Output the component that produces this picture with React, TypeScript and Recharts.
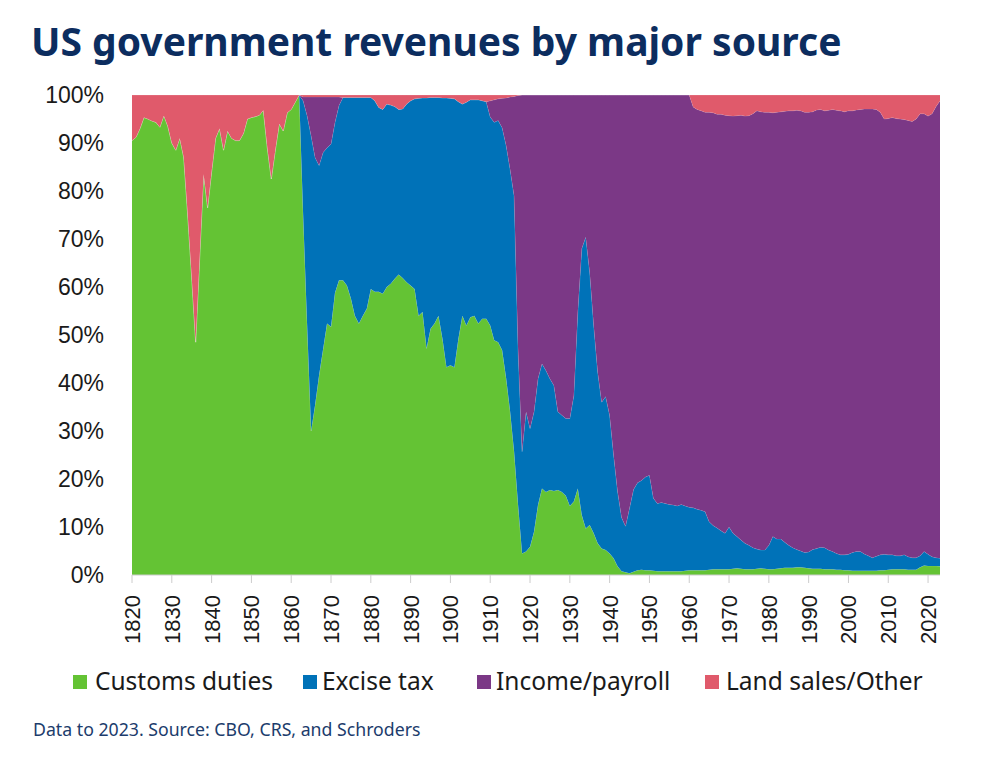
import React from 'react';
import { AreaChart, Area, XAxis, YAxis } from 'recharts';

// share of federal revenue by source, % of total, one value per year 1820-2023
const customs = [
    90.5, 91.2, 93, 95.3, 95, 94.6, 94.3, 93.3, 95.7, 93.5,
    90, 88.5, 91, 87, 75, 62, 48.5, 66, 83.5, 76.5,
    84, 91, 93, 88.5, 92.5, 91, 90.5, 90.5, 92, 95,
    95.3, 95.5, 95.8, 96.8, 89, 82.5, 88.5, 94, 92.5, 96.3,
    97, 98.5, 100, 75, 52, 30, 35.4, 41.6, 47, 52.4,
    51.7, 58.8, 61.4, 61.4, 60.3, 57.6, 54, 52.4, 54, 55.5,
    59.6, 59, 59, 58.6, 60, 60.7, 61.7, 62.6, 61.9, 61,
    60.3, 59.6, 54, 54.8, 47.2, 51.3, 52.4, 54, 49.2, 43.3,
    43.7, 43.3, 49.2, 54, 52, 53.7, 54, 52.4, 53.4, 53.4,
    52, 48.9, 48.5, 46.8, 41, 34, 25.7, 14.6, 4.5, 4.9,
    5.9, 9, 14.6, 18, 17.3, 17.7, 17.5, 17.7, 17.3, 16.5,
    14.4, 15.3, 18, 12.5, 9.7, 10.4, 8.7, 6.6, 5.5, 5.2,
    4.5, 3.5, 1.8, 0.8, 0.55, 0.35, 0.7, 1.0, 1.1, 1.0,
    1.0, 0.9, 0.8, 0.8, 0.8, 0.8, 0.8, 0.8, 0.8, 0.9,
    1.0, 1.0, 1.0, 1.0, 1.0, 1.1, 1.2, 1.2, 1.2, 1.2,
    1.2, 1.3, 1.4, 1.3, 1.2, 1.2, 1.2, 1.3, 1.4, 1.3,
    1.2, 1.2, 1.3, 1.4, 1.5, 1.5, 1.5, 1.6, 1.6, 1.5,
    1.4, 1.3, 1.3, 1.3, 1.2, 1.2, 1.2, 1.1, 1.1, 1.0,
    1.0, 0.9, 0.9, 0.9, 0.9, 0.9, 0.9, 0.9, 1.0, 1.0,
    1.1, 1.2, 1.2, 1.2, 1.2, 1.1, 1.1, 1.1, 1.6, 2.0,
    1.9, 1.9, 1.9, 1.8,
];

const excise = [
    0, 0, 0, 0, 0, 0, 0, 0, 0, 0,
    0, 0, 0, 0, 0, 0, 0, 0, 0, 0,
    0, 0, 0, 0, 0, 0, 0, 0, 0, 0,
    0, 0, 0, 0, 0, 0, 0, 0, 0, 0,
    0, 0, 0, 23.8, 43.7, 61.5, 51.6, 43.7, 41, 36.6,
    38.1, 35.5, 36.4, 38.1, 39.2, 41.9, 45.5, 47.1, 45.5, 44,
    39.9, 39.8, 38.4, 38.4, 38.1, 37.2, 35.9, 34.4, 35.2, 37.1,
    38.5, 39.6, 45.3, 44.6, 52.2, 48.2, 47.1, 45.5, 50.2, 56.1,
    55.6, 55.9, 49.4, 44.1, 46.5, 45.3, 45, 46.6, 45.4, 45.2,
    43.4, 45.4, 46.2, 46.4, 48.5, 50.5, 53.3, 32.4, 21.2, 29.1,
    24.6, 25, 26.3, 26, 25.3, 23.2, 22, 16.3, 16, 16.1,
    18.2, 22.1, 36.8, 55.5, 60.7, 52.6, 43.3, 35.7, 30.5, 32,
    28.8, 21.5, 15.6, 11.2, 9.6, 13.6, 17.1, 18.2, 18.6, 19.4,
    19.8, 15.1, 14.1, 14.3, 14.1, 13.9, 13.8, 13.6, 13.9, 13.5,
    13.1, 13, 12.7, 12.5, 12.2, 10, 9.1, 8.6, 8, 7.5,
    8.8, 7.4, 6.6, 6, 5.4, 5, 4.5, 4.1, 3.8, 3.9,
    5, 6.8, 6.2, 6.1, 5.3, 4.7, 4.2, 3.7, 3.4, 3.2,
    3.4, 4, 4.2, 4.5, 4.5, 4, 3.7, 3.4, 3.1, 3.2,
    3.3, 3.8, 4, 4, 3.5, 3.1, 2.7, 3, 3.2, 3.3,
    3.1, 3, 2.8, 2.8, 3, 2.7, 2.5, 2.5, 2.4, 2.9,
    2.4, 1.9, 1.7, 1.7,
];

const income = [
    0, 0, 0, 0, 0, 0, 0, 0, 0, 0,
    0, 0, 0, 0, 0, 0, 0, 0, 0, 0,
    0, 0, 0, 0, 0, 0, 0, 0, 0, 0,
    0, 0, 0, 0, 0, 0, 0, 0, 0, 0,
    0, 0, 0, 0.8, 3.9, 8.1, 12.6, 14.3, 11.6, 10.6,
    9.8, 5.3, 1.8, 0, 0, 0, 0, 0, 0, 0,
    0, 0, 0, 0, 0, 0, 0, 0, 0, 0,
    0, 0, 0, 0, 0, 0, 0, 0, 0, 0,
    0, 0, 0, 0, 0, 0, 0, 0, 0, 0,
    3.4, 4.7, 4.5, 6.1, 9.9, 15.1, 20.7, 52.9, 74.3, 66,
    69.5, 66, 59.1, 56, 57.4, 59.1, 60.5, 66, 66.7, 67.4,
    67.4, 62.6, 45.2, 32, 29.6, 37, 48, 57.7, 64, 62.8,
    66.7, 75, 82.6, 88, 89.8, 86, 82.2, 80.8, 80.3, 79.6,
    79.2, 84, 85.1, 84.9, 85.1, 85.3, 85.4, 85.6, 85.3, 85.6,
    85.9, 83.5, 83.3, 83.2, 83.2, 85.3, 86, 86.2, 86.8, 87.1,
    85.7, 86.9, 87.7, 88.5, 89, 89.5, 90.4, 91.3, 91.3, 91.2,
    90.2, 88.3, 88.9, 89, 89.8, 90.5, 91, 91.5, 91.7, 91.7,
    91.6, 91.2, 91.4, 91.2, 91, 91.6, 92.1, 92.3, 92.5, 92.3,
    92.4, 92, 92, 92.1, 92.7, 93.1, 93.5, 93.1, 92.2, 90.7,
    90.9, 91.1, 91.1, 91, 90.7, 90.9, 90.9, 91.4, 92.1, 91.2,
    91.3, 92.3, 94, 95.3,
];

const other = [
    9.5, 8.8, 7, 4.7, 5, 5.4, 5.7, 6.7, 4.3, 6.5,
    10, 11.5, 9, 13, 25, 38, 51.5, 34, 16.5, 23.5,
    16, 9, 7, 11.5, 7.5, 9, 9.5, 9.5, 8, 5,
    4.7, 4.5, 4.2, 3.2, 11, 17.5, 11.5, 6, 7.5, 3.7,
    3, 1.5, 0, 0.4, 0.4, 0.4, 0.4, 0.4, 0.4, 0.4,
    0.4, 0.4, 0.4, 0.5, 0.5, 0.5, 0.5, 0.5, 0.5, 0.5,
    0.5, 1.2, 2.6, 3, 1.9, 2.1, 2.4, 3, 2.9, 1.9,
    1.2, 0.8, 0.7, 0.6, 0.6, 0.5, 0.5, 0.5, 0.6, 0.6,
    0.7, 0.8, 1.4, 1.9, 1.5, 1, 1, 1, 1.2, 1.4,
    1.2, 1, 0.8, 0.7, 0.6, 0.4, 0.3, 0.1, 0, 0,
    0, 0, 0, 0, 0, 0, 0, 0, 0, 0,
    0, 0, 0, 0, 0, 0, 0, 0, 0, 0,
    0, 0, 0, 0, 0, 0, 0, 0, 0, 0,
    0, 0, 0, 0, 0, 0, 0, 0, 0, 0,
    0, 2.5, 3, 3.3, 3.6, 3.6, 3.7, 4, 4, 4.2,
    4.3, 4.4, 4.3, 4.2, 4.4, 4.3, 3.9, 3.3, 3.5, 3.6,
    3.6, 3.7, 3.6, 3.5, 3.4, 3.3, 3.3, 3.2, 3.3, 3.6,
    3.6, 3.5, 3.1, 3, 3.3, 3.2, 3, 3.2, 3.3, 3.5,
    3.3, 3.3, 3.1, 3, 2.9, 2.9, 2.9, 3, 3.6, 5,
    4.9, 4.7, 4.9, 5, 5.1, 5.3, 5.5, 5, 3.9, 3.9,
    4.4, 3.9, 2.4, 1.2,
];

const firstYear = 1820;
const years = customs.map((_, i) => firstYear + i);
const xTicks = [1820, 1830, 1840, 1850, 1860, 1870, 1880, 1890, 1900, 1910, 1920, 1930, 1940, 1950, 1960, 1970, 1980, 1990, 2000, 2010, 2020];
const yTicks = [0, 0.1, 0.2, 0.3, 0.4, 0.5, 0.6, 0.7, 0.8, 0.9, 1];

const series = [
    { key: 'customs', name: 'Customs duties', color: '#64c334', legendX: 73, textX: 95 },
    { key: 'excise', name: 'Excise tax', color: '#0072b8', legendX: 303, textX: 322 },
    { key: 'income', name: 'Income/payroll', color: '#7b3886', legendX: 477, textX: 496 },
    { key: 'other', name: 'Land sales/Other', color: '#e05a6b', legendX: 705, textX: 726 },
];

const data = years.map((year, i) => ({
    year,
    customs: customs[i],
    excise: excise[i],
    income: income[i],
    other: other[i],
}));

const axisFont = '"Liberation Sans", Arial, sans-serif';
const textFont = '"Noto Sans", sans-serif';

const YearTick = (props: any) => {
    const { x, y, payload } = props;
    return (
        <text transform={`translate(${x},${y + 10}) rotate(-90)`} textAnchor="end" dy="0.36em"
            fontSize={22} fontFamily={axisFont} fill="#1a1a1a">
            {payload.value}
        </text>
    );
};

const App: React.FC = () => {
    return (
        <div style={{ position: 'absolute', left: 0, top: 0, width: 1000, height: 779, background: '#fff' }}>
            <AreaChart width={1000} height={660} data={data} stackOffset="expand"
                margin={{ top: 95, right: 60, left: 52, bottom: 15 }}
                style={{ position: 'absolute', left: 0, top: 0 }}>
                <XAxis dataKey="year" type="number" domain={[1820, 2023]} ticks={xTicks} interval={0}
                    height={70} tickSize={8} tick={<YearTick />}
                    axisLine={{ stroke: '#cccccc' }} tickLine={{ stroke: '#cccccc' }} />
                <YAxis domain={[0, 1]} ticks={yTicks} width={80} axisLine={false} tickLine={false}
                    tickSize={0} tickMargin={28}
                    tickFormatter={(v: number) => `${Math.round(v * 100)}%`}
                    tick={{ fontSize: 23, fontFamily: axisFont, fill: '#1a1a1a' }} />
                {series.map(s => (
                    <Area key={s.key} type="linear" dataKey={s.key} stackId="rev" name={s.name}
                        fill={s.color} fillOpacity={1} stroke="rgba(255,255,255,0.3)" strokeWidth={0.6}
                        isAnimationActive={false} dot={false} activeDot={false} />
                ))}
            </AreaChart>
            <svg width={1000} height={779} style={{ position: 'absolute', left: 0, top: 0, pointerEvents: 'none' }}>
                <text x={31} y={56} fontSize={39} fontWeight={700} fontFamily={textFont} fill="#0c2d5f">
                    US government revenues by major source
                </text>
                {series.map(s => (
                    <g key={s.key}>
                        <rect x={s.legendX} y={675} width={14} height={14} fill={s.color} />
                        <text x={s.textX} y={690} fontSize={24.5} fontFamily={textFont} fill="#1a1a1a">{s.name}</text>
                    </g>
                ))}
                <text x={33} y={736} fontSize={17.7} fontFamily={textFont} fill="#1c3c6c">
                    Data to 2023. Source: CBO, CRS, and Schroders
                </text>
            </svg>
        </div>
    );
};

export default App;
